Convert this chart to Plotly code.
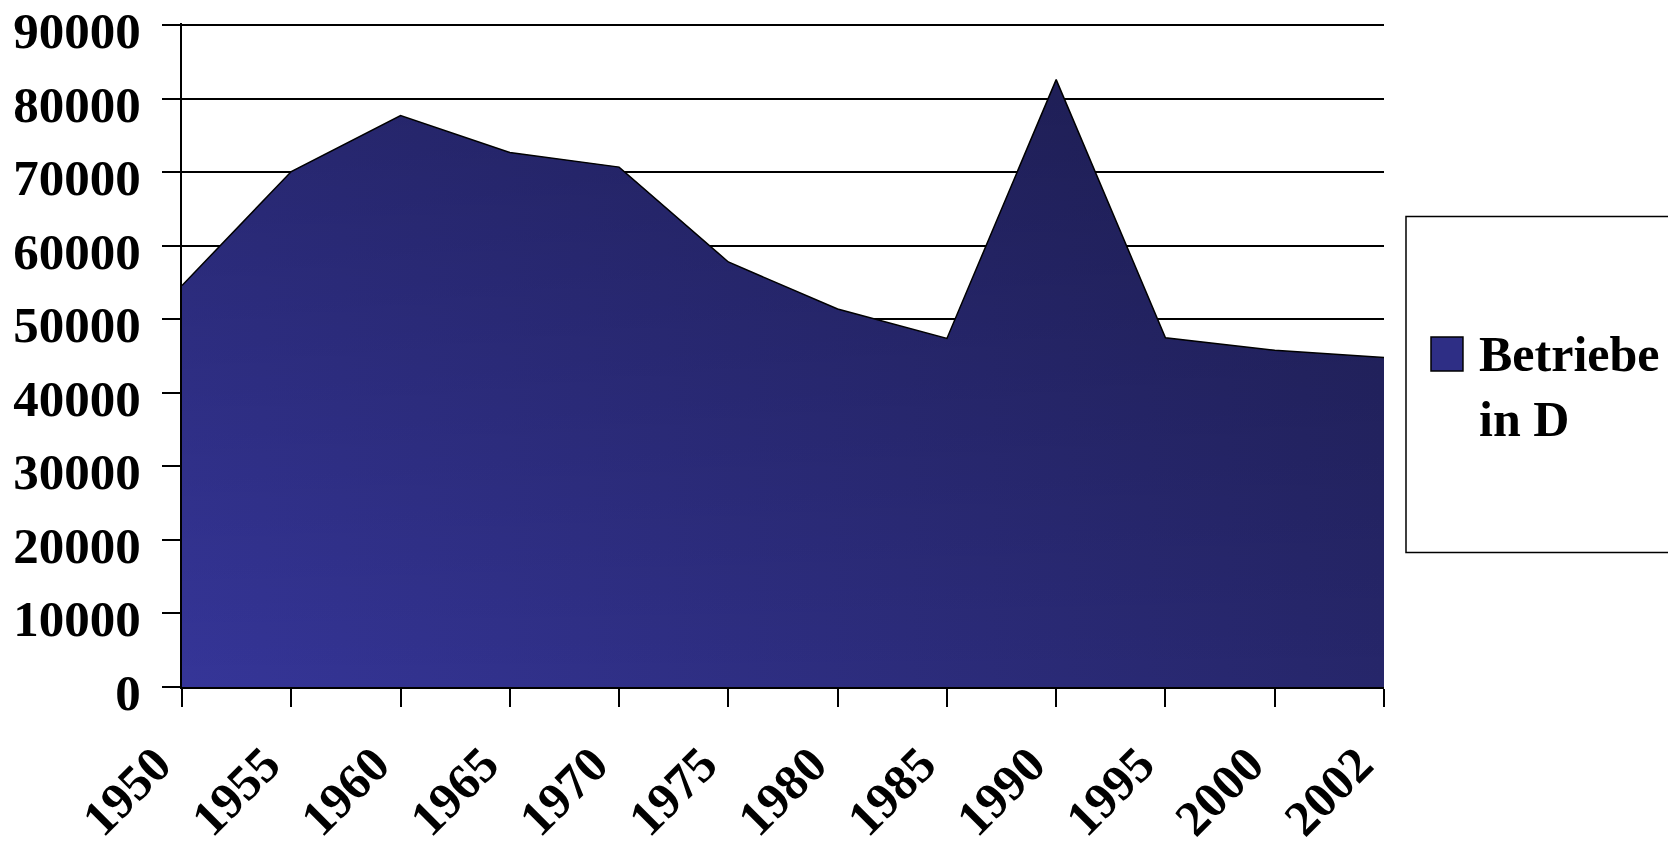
import plotly.graph_objects as go

years = ["1950", "1955", "1960", "1965", "1970", "1975", "1980", "1985", "1990", "1995", "2000", "2002"]
betriebe = [54600, 70100, 77700, 72700, 70700, 57800, 51400, 47400, 82600, 47500, 45800, 44800]
series_name = "Betriebe<br>in D"
y_ticks = [0, 10000, 20000, 30000, 40000, 50000, 60000, 70000, 80000, 90000]
y_max = 90300

FONT = "Liberation Serif"

fig = go.Figure()

# base area with left-to-right gradient
fig.add_trace(go.Scatter(
    x=years, y=betriebe, mode="lines", line=dict(width=0, color="rgba(0,0,0,0)"),
    fill="tozeroy",
    fillgradient=dict(type="horizontal", colorscale=[[0, "#353598"], [1, "#26266a"]]),
    showlegend=False, hoverinfo="skip",
))
# darkening overlay toward the top
fig.add_trace(go.Scatter(
    x=years, y=betriebe, mode="lines", line=dict(width=1.5, color="black"),
    fill="tozeroy",
    fillgradient=dict(type="vertical", colorscale=[[0, "rgba(0,0,0,0)"], [1, "rgba(0,0,0,0.27)"]]),
    showlegend=False, name="Betriebe in D",
))

# right edge outline of the area
fig.add_shape(type="line", xref="x", yref="y", x0=years[-1], x1=years[-1], y0=0, y1=betriebe[-1],
              line=dict(color="black", width=1.5))

# legend box (drawn manually to match the large legend frame)
fig.add_shape(type="rect", xref="paper", yref="paper", x0=1.0183, x1=1.32, y0=0.2024, y1=0.7085,
              line=dict(color="black", width=1.5), fillcolor="white", layer="below")
fig.add_shape(type="rect", xref="paper", yref="paper", x0=1.0391, x1=1.0657, y0=0.4758, y1=0.5272,
              line=dict(color="black", width=1.5), fillcolor="#2e2e85")
fig.add_annotation(text=series_name, xref="paper", yref="paper", x=1.077, y=0.452,
                   xanchor="left", yanchor="middle", align="left", showarrow=False,
                   font=dict(family=FONT, size=50, color="black", weight="bold"))

fig.update_layout(
    width=1668, height=853,
    margin=dict(l=182, r=284, t=23, b=166, autoexpand=False),
    paper_bgcolor="white", plot_bgcolor="white",
    showlegend=False,
    font=dict(family=FONT, size=50, color="black", weight="bold"),
)
fig.update_xaxes(
    type="category", range=[0, len(years) - 1],
    showgrid=False, zeroline=False,
    showline=True, linecolor="black", linewidth=2,
    ticks="outside", ticklen=18, tickwidth=1.5, tickcolor="black",
    tickangle=-45, tickfont=dict(family=FONT, size=50, color="black", weight="bold"),
    ticklabelstandoff=8, ticklabelshift=-26, ticklabeloverflow="allow",
)
fig.update_yaxes(
    range=[0, y_max], tickmode="array", tickvals=y_ticks, ticktext=[str(v) for v in y_ticks],
    showgrid=True, gridcolor="black", gridwidth=1.5, zeroline=False,
    showline=True, linecolor="black", linewidth=2,
    ticks="outside", ticklen=18, tickwidth=1.5, tickcolor="black",
    tickfont=dict(family=FONT, size=51, color="black", weight="bold"),
    ticklabelstandoff=11, ticklabelshift=5, ticklabeloverflow="allow",
)

fig.write_html("out.html", config={"displayModeBar": False},
               post_script="document.body.style.margin='0';document.body.style.overflow='hidden';")
